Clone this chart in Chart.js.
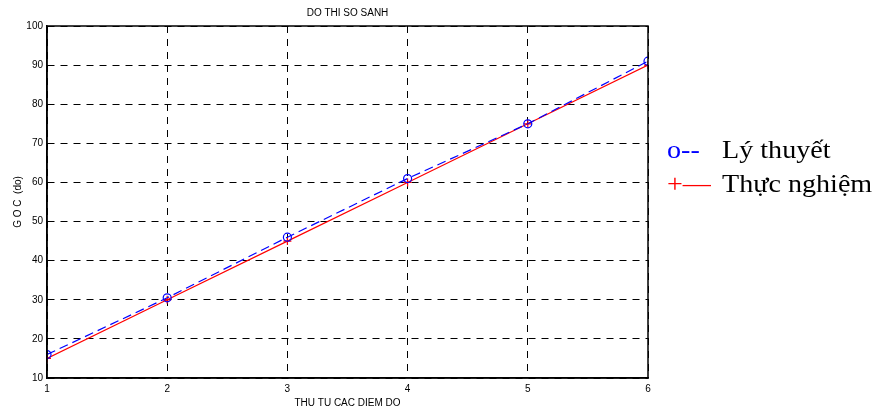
<!DOCTYPE html>
<html>
<head>
<meta charset="utf-8">
<script src="https://cdn.jsdelivr.net/npm/chart.js@4/dist/chart.umd.min.js"></script>
<style>
  html, body { margin: 0; padding: 0; background: #fff; }
  #wrap { position: relative; width: 875px; height: 414px; }
  #legend { position: absolute; left: 667px; top: 133px; font-family: "Liberation Serif", "DejaVu Serif", serif; font-size: 26px; line-height: 34px; color: #000; transform: scaleX(1.08); transform-origin: left top; white-space: nowrap; }
  #legend .mk { display: inline-block; width: 51px; }
</style>
</head>
<body>
<div id="wrap">
  <canvas id="chart" width="875" height="414"></canvas>
  <div id="legend">
    <div><span class="mk" style="color:#0000ff">o--</span>Lý thuyết</div>
    <div><span class="mk" style="color:#ff0000">+—</span>Thực nghiệm</div>
  </div>
</div>
<script>
// Data
const points = [1, 2, 3, 4, 5, 6];
const lyThuyet = [16, 30.5, 46, 61, 75, 91];
const thucNghiem = [15, 30, 45, 60, 75, 90];
const yTicks = [10, 20, 30, 40, 50, 60, 70, 80, 90, 100];

const tickFont = { family: "'Liberation Sans Narrow', 'Liberation Sans', Arial", size: 10 };

// frame around plot area (MATLAB box)
const boxPlugin = {
  id: "box",
  afterDraw(chart) {
    const { ctx, chartArea: a } = chart;
    ctx.save();
    ctx.strokeStyle = "#000";
    ctx.lineWidth = 1.5;
    ctx.strokeRect(a.left, a.top, a.right - a.left, a.bottom - a.top);
    ctx.restore();
  },
};

new Chart(document.getElementById("chart").getContext("2d"), {
  type: "line",
  data: {
    datasets: [
      {
        label: "Lý thuyết",
        data: points.map((p, i) => ({ x: p, y: lyThuyet[i] })),
        borderColor: "#0000ff",
        borderWidth: 1.2,
        borderDash: [9, 5],
        pointStyle: "circle",
        pointRadius: 4,
        pointBorderColor: "#0000ff",
        pointBackgroundColor: "rgba(0,0,0,0)",
        pointBorderWidth: 1.2,
        fill: false,
      },
      {
        label: "Thực nghiệm",
        data: points.map((p, i) => ({ x: p, y: thucNghiem[i] })),
        borderColor: "#ff0000",
        borderWidth: 1.2,
        pointStyle: "cross",
        pointRadius: 4,
        pointBorderColor: "#ff0000",
        pointBorderWidth: 1.2,
        fill: false,
      },
    ],
  },
  options: {
    responsive: false,
    animation: false,
    layout: { padding: { left: 12, right: 227, top: 0, bottom: 5 } },
    plugins: {
      legend: { display: false },
      tooltip: { enabled: false },
      title: {
        display: true,
        text: "DO THI SO SANH",
        fullSize: false,
        color: "#000",
        font: { family: tickFont.family, size: 10, weight: "normal" },
        padding: { top: 7, bottom: 7 },
      },
    },
    scales: {
      x: {
        type: "linear",
        min: 1,
        max: 6,
        ticks: { stepSize: 1, color: "#000", font: tickFont, padding: 5 },
        grid: { color: "#000", lineWidth: 1, drawTicks: false },
        border: { display: true, color: "#000", width: 1.5, dash: [7, 6] },
        title: { display: true, text: "THU TU CAC DIEM DO", color: "#000", font: tickFont, padding: { top: 0, bottom: 0 } },
        afterFit(scale) { scale.height = 31; },
      },
      y: {
        min: 10,
        max: 100,
        afterBuildTicks(scale) { scale.ticks = yTicks.map(v => ({ value: v })); },
        ticks: { color: "#000", font: tickFont, padding: 4 },
        grid: { color: "#000", lineWidth: 1, drawTicks: false },
        border: { display: true, color: "#000", width: 1.5, dash: [7, 6] },
        title: { display: true, text: "G O C  (do)", color: "#000", font: tickFont, padding: { top: 0, bottom: 2 } },
        afterFit(scale) { scale.width = 35; },
      },
    },
  },
  plugins: [boxPlugin],
});
</script>
</body>
</html>
